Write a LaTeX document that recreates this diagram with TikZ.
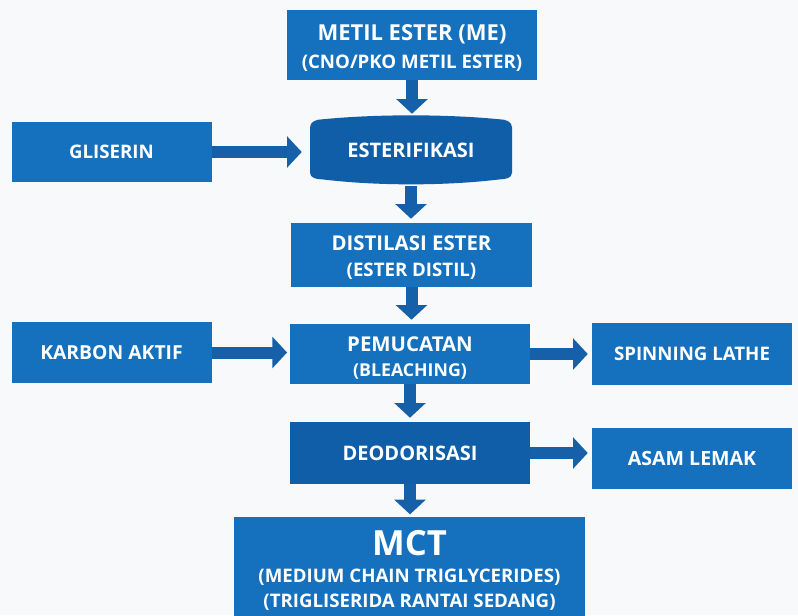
\documentclass[tikz,border=0pt]{standalone}
\usepackage{fontspec}
\setmainfont{Open Sans}
\usetikzlibrary{arrows.meta,positioning}
\definecolor{boxblue}{HTML}{1570BD}
\definecolor{darkblue}{HTML}{0F5EA7}
\definecolor{arrblue}{HTML}{1560A8}
\definecolor{bggray}{HTML}{F8F9FA}
\tikzset{
  box/.style  = {fill=boxblue, text=white, align=center, inner sep=0pt,
                 font=\bfseries\fontsize{14pt}{17pt}\selectfont},
  dbox/.style = {box, fill=darkblue},
  side/.style = {box, minimum width=150pt, minimum height=46pt},
  big/.style  = {font=\bfseries\fontsize{15pt}{18pt}\selectfont},
  ar/.style   = {draw=arrblue, line width=9pt,
                 -{Triangle[length=11pt, width=23pt]}}
}
\begin{document}
\begin{tikzpicture}[x=0.75pt, y=-0.75pt]
  \useasboundingbox[fill=bggray] (0,0) rectangle (798,615);
  % main column
  \node[box, minimum width=187.5pt, minimum height=52.5pt] (me) at (412,45)
        {\rule{0pt}{17pt}{\fontsize{16.5pt}{20pt}\selectfont METIL ESTER (ME)}\\[4pt](CNO/PKO METIL ESTER)};
  \node[box, fill=none, big, minimum width=151.5pt, minimum height=54pt,
        path picture={
          \coordinate (nw) at (path picture bounding box.north west);
          \coordinate (ne) at (path picture bounding box.north east);
          \coordinate (sw) at (path picture bounding box.south west);
          \coordinate (se) at (path picture bounding box.south east);
          \fill[darkblue] ([yshift=-10pt]nw) to[out=90,in=180] ([xshift=9pt,yshift=-4pt]nw)
            .. controls ([xshift=50pt]nw) and ([xshift=-50pt]ne) .. ([xshift=-9pt,yshift=-4pt]ne)
            to[out=0,in=90] ([yshift=-10pt]ne) -- ([yshift=10pt]se)
            to[out=-90,in=0] ([xshift=-9pt,yshift=5pt]se)
            .. controls ([xshift=-50pt]se) and ([xshift=50pt]sw) .. ([xshift=9pt,yshift=5pt]sw)
            to[out=180,in=-90] ([yshift=10pt]sw) -- cycle;
        }] (ester) at (411,150) {ESTERIFIKASI};
  \node[box, minimum width=181pt, minimum height=48pt] (dist) at (411.5,255)
        {\rule{0pt}{15pt}{\fontsize{15.3pt}{17pt}\selectfont DISTILASI ESTER}\\[2pt](ESTER DISTIL)};
  \node[box, minimum width=180pt, minimum height=45pt] (bleach) at (410,354)
        {\rule{0pt}{17pt}{\fontsize{15.3pt}{17pt}\selectfont PEMUCATAN}\\[2pt]{\fontsize{13.3pt}{17pt}\selectfont (BLEACHING)}};
  \node[dbox, big, minimum width=180pt, minimum height=46.5pt] (deo) at (410,453)
        {DEODORISASI};
  \node[box, anchor=north, minimum width=263pt, inner ysep=10pt,
        font=\bfseries\fontsize{14pt}{19pt}\selectfont] (mct) at (409.5,517)
        {{\fontsize{26pt}{28pt}\selectfont MCT}\\[1pt]
         (MEDIUM CHAIN TRIGLYCERIDES)\\(TRIGLISERIDA RANTAI SEDANG)};
  % side boxes
  \node[side, minimum height=45pt] (gli) at (111.5,152) {GLISERIN};
  \node[side, font=\bfseries\fontsize{14.5pt}{17pt}\selectfont] (karbon) at (111.5,352.5) {KARBON AKTIF};
  \node[side] (spin) at (692,354) {SPINNING LATHE};
  \node[side, font=\bfseries\fontsize{14.7pt}{17pt}\selectfont] (asam) at (692,458.5) {ASAM LEMAK};
  % flow
  \draw[ar] (me.south) -- (me.south |- ester.north);
  \draw[ar, shorten >=3pt] (ester.south) -- (ester.south |- dist.north);
  \draw[ar, shorten >=3pt] (dist.south) -- (dist.south |- bleach.north);
  \draw[ar, shorten >=3pt] (bleach.south) -- (bleach.south |- deo.north);
  \draw[ar, shorten >=2pt] (deo.south) -- (deo.south |- mct.north);
  \draw[ar, shorten >=6pt] (gli.east) -- (gli.east -| ester.west);
  \draw[ar, shorten >=2pt] (karbon.east) -- (karbon.east -| bleach.west);
  \draw[ar, shorten >=3pt] (bleach.east) -- (bleach.east -| spin.west);
  \draw[ar, shorten >=3pt] (deo.east) -- (deo.east -| asam.west);
\end{tikzpicture}
\end{document}
